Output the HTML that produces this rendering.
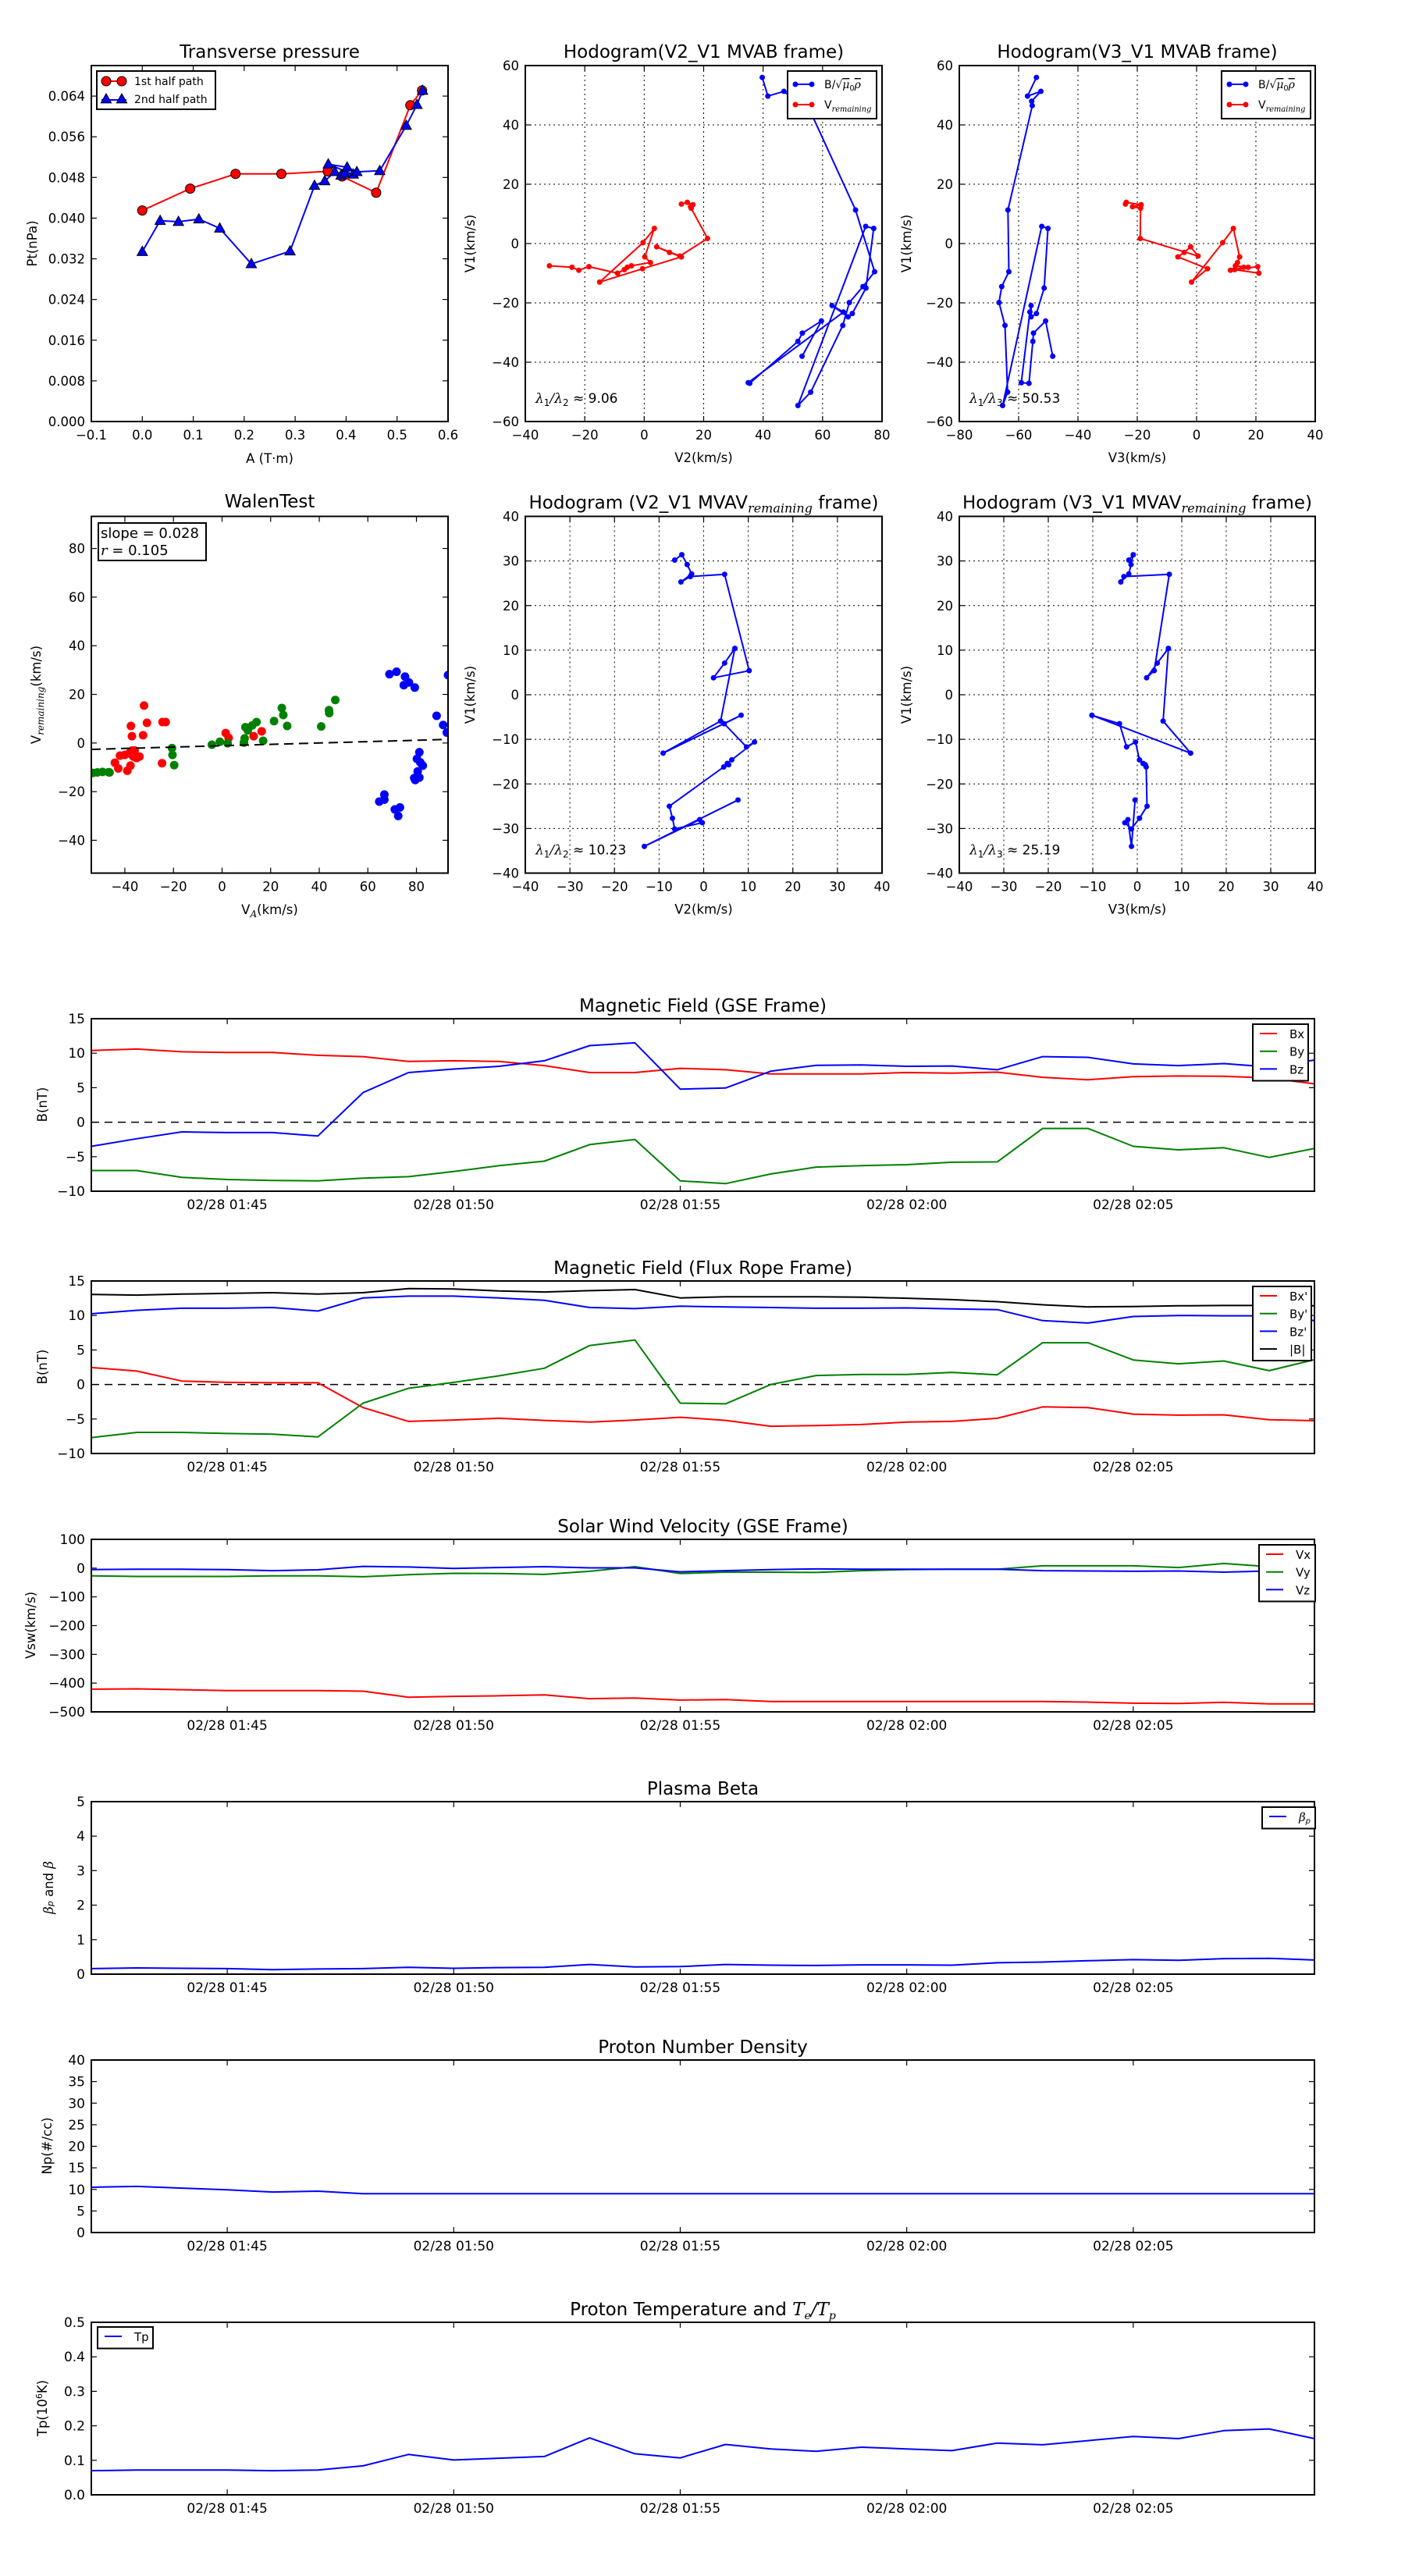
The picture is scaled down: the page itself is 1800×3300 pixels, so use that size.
<!DOCTYPE html>
<html><head><meta charset="utf-8"><title>Flux rope analysis</title>
<style>
html,body{margin:0;padding:0;background:#fff;}
svg{display:block;font-family:"DejaVu Sans","Liberation Sans",sans-serif;}
</style></head>
<body>
<svg id="chart" xmlns="http://www.w3.org/2000/svg" width="1800" height="3300" viewBox="0 0 1800 3300">
<rect x="0" y="0" width="1800" height="3300" fill="#fff"/>
<defs id="defs"></defs>
</svg>
<script>
// ---------- DATA ----------
// Transverse pressure
const ptA1 = [0, 0.094, 0.183, 0.273, 0.364, 0.392, 0.459, 0.526, 0.549];
const ptP1 = [0.0415, 0.0458, 0.0487, 0.0487, 0.0492, 0.0482, 0.045, 0.0622, 0.0651];
const ptA2 = [0, 0.035, 0.071, 0.111, 0.152, 0.214, 0.290, 0.338, 0.358, 0.378, 0.39, 0.397, 0.414, 0.365, 0.402, 0.421, 0.466, 0.518, 0.539, 0.55];
const ptP2 = [0.0334, 0.0395, 0.0393, 0.0398, 0.038, 0.031, 0.0335, 0.0464, 0.0473, 0.0491, 0.0484, 0.0488, 0.0486, 0.0506, 0.0500, 0.0491, 0.0493, 0.0582, 0.0623, 0.0651];
// MVAB hodogram, B/sqrt(mu0 rho)
const hbV1 = [56, 49.7, 51.3, 48, 46.5, 11.3, -9.5, -14.5, -19.9, -27.6, -50.1, -54.6, 5.8, 5.1, -15, -23.6, -24.7, -20.9, -23.1, -46.9, -47.1, -33, -30.2, -26.1, -38];
const hbV2 = [39.7, 41.6, 47, 51, 55, 71.1, 77.5, 73.6, 69, 66.8, 56, 51.7, 74.5, 77.2, 74.6, 70, 68.6, 63.2, 67, 35, 35.5, 51.7, 53.2, 59.6, 53.1];
const hbV3 = [-54, -57, -52.5, -55.6, -55.4, -63.6, -63.3, -65.7, -66.6, -64.6, -63.7, -65.4, -52.2, -50.1, -51.4, -54, -55.8, -55.8, -56.2, -59.1, -56.5, -55.2, -55, -50.9, -48.5];
// MVAB hodogram, V remaining
const hvV1 = [13.3, 13.9, 13.1, 12.4, 11.9, 1.7, -4.2, -1.1, -3, -4.5, -8.5, -13, 0.3, 5.1, -4.5, -6.4, -7.5, -8, -8.8, -10, -7.8, -9, -8, -7.5];
const hvV2 = [12.5, 14.5, 16.4, 15.6, 15.8, 21.3, 12.0, 4.2, 8.5, 12.5, -0.6, -15, -0.4, 3.4, 0.2, 2.1, -4.3, -5.7, -6.7, -9, -18.6, -22, -24.3, -31.9];
const hvV3 = [-24, -23.7, -18.7, -21.6, -18.9, -19, 0.5, -2, -4.2, -6.3, 3.7, -1.7, 8.8, 12.4, 14.5, 13.8, 13.1, 15.9, 12.8, 21, 20.6, 11.4, 17.4, 13.1];
// MVAV hodogram
const mvV1 = [30.2, 31.4, 29.2, 27.1, 25.3, 26.5, 27.0, 5.4, 3.8, 7.1, 10.4, -5.9, -13.1, -4.6, -6.5, -11.7, -10.6, -14.6, -15.4, -15.7, -16.2, -25, -27.7, -30.1, -28.7, -28, -34, -23.6];
const mvV2 = [-6.5, -4.9, -3.7, -2.7, -5.1, -3, 4.7, 10.2, 2.2, 4.7, 7, 3.8, -9.1, 8.4, 4.6, 9.6, 11.4, 6.3, 5.3, 5.6, 4.5, -7.7, -7, -6.5, -0.3, -0.9, -13.3, 7.7];
const mvV3 = [-1.9, -0.9, -1.4, -1.9, -3.7, -3, 7.2, 3.8, 2.1, 4.5, 7, 5.8, 12, -10.2, -4, -2.4, -0.4, 0.5, 1.3, 1.8, 2, 2.2, 0.5, -1.3, -2.8, -2.1, -1.3, -0.5];
// Walen test
const walenRedX = [-44.1, -42.7, -42, -40, -39, -37.5, -37.1, -37.7, -37, -36.5, -35.2, -34, -32.5, -32.1, -30.9, -24.7, -24.5, -23.2, 1.5, 2.7, 13, 16.3, -38.3, -36];
const walenRedY = [-8.1, -10.5, -5.2, -4.9, -11.4, 7, 2.8, -9.3, -3.1, -5.6, -6.2, -5.6, 3.2, 15.4, 8.3, -8.3, 8.6, 8.6, 4.1, 2.1, 2.8, 4.8, -4.3, -3.1];
const walenGreenX = [-53.2, -51.3, -49.2, -46.7, -46.3, -20.6, -20.4, -19.7, -4.2, -0.9, 2.3, 9, 9.3, 9.6, 10.6, 12.4, 14.2, 16.9, 21.4, 24.6, 25.2, 26.8, 40.8, 44, 44.1, 46.6];
const walenGreenY = [-12.3, -12.1, -11.9, -12, -12.1, -2.1, -4.9, -9.1, -0.7, 0.5, -0.1, 0.2, 1.9, 6.5, 5.2, 7.2, 8.6, 0.9, 9, 14.4, 11.5, 7, 6.8, 13.5, 12.3, 17.7];
const walenBlueX = [68.9, 71.8, 75.3, 74.8, 76.9, 79.3, 88.3, 91, 92.5, 93, 81.2, 80.2, 81.6, 82.6, 80.5, 79.1, 81.2, 79.5, 64.7, 66.8, 66.8, 71.1, 73.2, 72.5];
const walenBlueY = [28.3, 29.3, 27.3, 23.8, 24.9, 22.8, 11.2, 7.4, 4.3, 27.9, -3.8, -6.5, -8, -9.3, -11.7, -14.4, -14.2, -15.2, -24.1, -21.2, -23.3, -27.3, -26.5, -30];
const walenSlope = 0.028;
const walenIntercept = -1.1;
// Time series (one sample per minute)
const timeLabels = ['01:42','01:43','01:44','01:45','01:46','01:47','01:48','01:49','01:50','01:51','01:52','01:53','01:54','01:55','01:56','01:57','01:58','01:59','02:00','02:01','02:02','02:03','02:04','02:05','02:06','02:07','02:08','02:09'];
const timeTickLabels = ['02/28 01:45','02/28 01:50','02/28 01:55','02/28 02:00','02/28 02:05'];
const timeTickIdx = [3, 8, 13, 18, 23];
const gseBx = [10.4,10.6,10.2,10.1,10.1,9.7,9.5,8.8,8.9,8.8,8.2,7.2,7.2,7.8,7.6,7.0,7.0,7.0,7.2,7.1,7.25,6.5,6.15,6.6,6.7,6.65,6.4,5.55];
const gseBy = [-7.0,-7.0,-8.0,-8.3,-8.45,-8.5,-8.1,-7.9,-7.15,-6.3,-5.65,-3.25,-2.5,-8.5,-8.9,-7.5,-6.5,-6.3,-6.15,-5.8,-5.75,-0.9,-0.9,-3.5,-4.0,-3.7,-5.1,-3.8];
const gseBz = [-3.5,-2.4,-1.4,-1.5,-1.5,-2.0,4.3,7.2,7.7,8.1,8.9,11.1,11.5,4.8,4.95,7.4,8.25,8.3,8.1,8.15,7.6,9.5,9.4,8.45,8.2,8.5,8.0,9.0];
const frBx = [2.45,1.95,0.5,0.3,0.25,0.25,-3.35,-5.35,-5.15,-4.9,-5.2,-5.45,-5.15,-4.75,-5.2,-6.05,-5.95,-5.8,-5.45,-5.35,-4.9,-3.25,-3.35,-4.3,-4.45,-4.4,-5.1,-5.25];
const frBy = [-7.7,-6.95,-6.95,-7.1,-7.2,-7.6,-2.7,-0.55,0.3,1.25,2.35,5.65,6.45,-2.7,-2.8,0,1.3,1.45,1.45,1.75,1.4,6.05,6.05,3.55,3.0,3.4,2.0,3.6];
const frBz = [10.25,10.75,11.05,11.05,11.15,10.65,12.55,12.8,12.8,12.55,12.2,11.15,11.0,11.35,11.25,11.15,11.05,11.05,11.1,10.95,10.85,9.25,8.9,9.85,10.0,9.95,9.95,9.25];
const frBt = [13.05,12.95,13.1,13.2,13.3,13.1,13.3,13.9,13.85,13.55,13.4,13.6,13.75,12.55,12.7,12.7,12.7,12.65,12.5,12.3,12.0,11.55,11.25,11.3,11.4,11.45,11.45,11.4];
const vswX = [-421,-420,-423,-426,-426,-426,-428,-449,-446,-444,-441,-454,-452,-459,-457,-464,-464,-464,-464,-464,-464,-464,-466,-470,-471,-467,-472,-472];
const vswY = [-27,-29,-29,-29,-27,-27,-30,-23,-18,-19,-22,-11,5,-19,-14,-14,-15,-9,-5,-4,-4,8,8,8,2,16,5,5];
const vswZ = [-5,-4,-4,-5,-9,-6,6,4,-1,2,5,1,1,-13,-9,-5,-3,-4,-4,-4,-4,-9,-10,-11,-10,-14,-10,-3];
const betaP = [0.16,0.18,0.17,0.16,0.13,0.15,0.16,0.2,0.17,0.19,0.2,0.28,0.21,0.22,0.28,0.26,0.25,0.27,0.27,0.26,0.33,0.35,0.39,0.42,0.40,0.45,0.46,0.41];
const npDens = [10.5,10.7,10.3,9.9,9.4,9.6,9.0,9.0,9.0,9.0,9.0,9.0,9.0,9.0,9.0,9.0,9.0,9.0,9.0,9.0,9.0,9.0,9.0,9.0,9.0,9.0,9.0,9.0];
const tpTemp = [0.070,0.072,0.072,0.072,0.070,0.072,0.084,0.117,0.101,0.106,0.111,0.165,0.119,0.107,0.146,0.133,0.126,0.138,0.133,0.128,0.150,0.145,0.157,0.169,0.163,0.186,0.191,0.163];

// ---------- DRAWING ----------
const NS = 'http://www.w3.org/2000/svg';
const svg = document.getElementById('chart');
const defs = document.getElementById('defs');
let clipCount = 0;
function mk(tag, attrs, name, parent) {
  const e = document.createElementNS(NS, tag);
  for (const k in attrs) e.setAttribute(k, attrs[k]);
  
  
  (parent || svg).appendChild(e);
  return e;
}
function txt(x, y, str, size, anchor, name, parent, extra) {
  const a = {x: x, y: y, 'font-size': size, 'text-anchor': anchor || 'middle', fill: '#000'};
  if (extra) for (const k in extra) a[k] = extra[k];
  const t = mk('text', a, name, parent);
  t.textContent = str;
  return t;
}
function tsp(t, str, attrs) {
  const s = document.createElementNS(NS, 'tspan');
  for (const k in attrs) s.setAttribute(k, attrs[k]);
  s.textContent = str;
  t.appendChild(s);
  return s;
}
const fmtMinus = s => String(s).replace('-', '\u2212');

function axes(o) {
  const g = mk('g', {}, o.name);
  const sx = v => o.x0 + (v - o.xmin) / (o.xmax - o.xmin) * (o.x1 - o.x0);
  const sy = v => o.y1 - (v - o.ymin) / (o.ymax - o.ymin) * (o.y1 - o.y0);
  const cid = 'clip' + (clipCount++);
  const cp = mk('clipPath', {id: cid}, o.name + '-clip', defs);
  mk('rect', {x: o.x0, y: o.y0, width: o.x1 - o.x0, height: o.y1 - o.y0}, o.name + '-clip-rect', cp);
  if (o.grid) {
    o.xt.forEach(v => mk('line', {x1: sx(v), x2: sx(v), y1: o.y0, y2: o.y1, stroke: '#000', 'stroke-width': 1, 'stroke-dasharray': '2,4'}, o.name + '-x-grid', g));
    o.yt.forEach(v => mk('line', {x1: o.x0, x2: o.x1, y1: sy(v), y2: sy(v), stroke: '#000', 'stroke-width': 1, 'stroke-dasharray': '2,4'}, o.name + '-y-grid', g));
  }
  o.xt.forEach((v, i) => {
    const X = o.xpos ? o.xpos(v) : sx(v);
    mk('line', {x1: X, x2: X, y1: o.y1, y2: o.y1 - 7, stroke: '#000', 'stroke-width': 1.2}, o.name + '-x-tick', g);
    mk('line', {x1: X, x2: X, y1: o.y0, y2: o.y0 + 7, stroke: '#000', 'stroke-width': 1.2}, o.name + '-x-tick-top', g);
    txt(X, o.y1 + 23, o.xlab(v, i), o.tf || 16.5, 'middle', o.name + '-x-tick-label', g);
  });
  o.yt.forEach((v, i) => {
    const Y = sy(v);
    mk('line', {x1: o.x0, x2: o.x0 + 7, y1: Y, y2: Y, stroke: '#000', 'stroke-width': 1.2}, o.name + '-y-tick', g);
    mk('line', {x1: o.x1, x2: o.x1 - 7, y1: Y, y2: Y, stroke: '#000', 'stroke-width': 1.2}, o.name + '-y-tick-right', g);
    txt(o.x0 - 8, Y + 6, o.ylab(v, i), o.tf || 16.5, 'end', o.name + '-y-tick-label', g);
  });
  const data = mk('g', {'clip-path': 'url(#' + cid + ')'}, o.name + '-data', g);
  return {g, sx, sy, data, finish: () => mk('rect', {x: o.x0, y: o.y0, width: o.x1 - o.x0, height: o.y1 - o.y0, fill: 'none', stroke: '#000', 'stroke-width': 2}, o.name + '-frame', g)};
}
function poly(ax, xs, ys, color, name, w) {
  const pts = xs.map((x, i) => ax.sx(x).toFixed(1) + ',' + ax.sy(ys[i]).toFixed(1)).join(' ');
  return mk('polyline', {points: pts, fill: 'none', stroke: color, 'stroke-width': w || 2, 'stroke-linejoin': 'round'}, name, ax.data);
}
function dots(ax, xs, ys, color, r, name, edge) {
  xs.forEach((x, i) => {
    const c = mk('circle', {cx: ax.sx(x), cy: ax.sy(ys[i]), r: r, fill: color}, name, ax.data);
    if (edge) { c.setAttribute('stroke', '#000'); c.setAttribute('stroke-width', 1); }
  });
}
function tri(cx, cy, s, name, parent) {
  const p = [[cx, cy - s], [cx - s * 0.95, cy + s * 0.7], [cx + s * 0.95, cy + s * 0.7]].map(q => q.join(',')).join(' ');
  return mk('polygon', {points: p, fill: '#0000ff', stroke: '#000', 'stroke-width': 1}, name, parent);
}
function range(a, b, s) { const r = []; for (let v = a; v <= b + 1e-9; v += s) r.push(Math.round(v * 1000) / 1000); return r; }
function legendBox(x, y, w, h, name) {
  return mk('rect', {x: x, y: y, width: w, height: h, fill: '#fff', stroke: '#000', 'stroke-width': 2}, name, svg);
}
function remainingLabel(x, y, size, name, parent) {
  const t = txt(x, y, 'V', size, 'start', name, parent);
  tsp(t, 'remaining', {'font-size': size * 0.7, 'font-style': 'italic', 'font-family': 'DejaVu Serif, serif', dy: 4});
  return t;
}
function sqrtLabel(x, y, size, name, parent) {
  const t = txt(x, y, 'B/\u221A', size, 'start', name, parent);
  tsp(t, '\u03BC', {'font-style': 'italic', 'font-family': 'DejaVu Serif, serif', 'text-decoration': 'overline'});
  tsp(t, '0', {'font-size': size * 0.7, dy: 3});
  tsp(t, '\u03C1', {'font-style': 'italic', 'font-family': 'DejaVu Serif, serif', dy: -3, 'text-decoration': 'overline'});
  return t;
}
function lambdaLabel(x, y, k, val, name) {
  const t = txt(x, y, '', 17, 'start', name, svg);
  tsp(t, '\u03BB', {'font-style': 'italic', 'font-family': 'DejaVu Serif, serif'});
  tsp(t, '1', {'font-size': 12, dy: 4});
  tsp(t, '/\u03BB', {'font-style': 'italic', 'font-family': 'DejaVu Serif, serif', dy: -4});
  tsp(t, k, {'font-size': 12, dy: 4});
  tsp(t, ' \u2248 ' + val, {dy: -4});
  return t;
}

// ---- Panel 1: Transverse pressure
{
  const ax = axes({name: 'transverse-pressure-plot', x0: 117, x1: 574, y0: 84, y1: 540, xmin: -0.1, xmax: 0.6, ymin: 0, ymax: 0.07,
    xt: range(-0.1, 0.6, 0.1), yt: range(0, 0.064, 0.008), xlab: v => fmtMinus(v.toFixed(1)), ylab: v => v.toFixed(3)});
  poly(ax, ptA1, ptP1, '#ff0000', 'first-half-path-line');
  dots(ax, ptA1, ptP1, '#ff0000', 6, 'first-half-path-marker', true);
  poly(ax, ptA2, ptP2, '#0000ff', 'second-half-path-line');
  ptA2.forEach((a, i) => tri(ax.sx(a), ax.sy(ptP2[i]), 7, 'second-half-path-marker', ax.data));
  ax.finish();
  txt(345.5, 74, 'Transverse pressure', 23, 'middle', 'transverse-pressure-title');
  txt(345.5, 593, 'A (T\u00B7m)', 16.5, 'middle', 'x-axis-title-a');
  txt(47, 312, 'Pt(nPa)', 16.5, 'middle', 'y-axis-title-pt', svg, {transform: 'rotate(-90 47 312)'});
  legendBox(124, 91, 152, 49, 'pressure-legend-box');
  mk('line', {x1: 130, x2: 162, y1: 104, y2: 104, stroke: '#ff0000', 'stroke-width': 2}, 'legend-first-half-line');
  mk('circle', {cx: 136, cy: 104, r: 6, fill: '#ff0000', stroke: '#000'}, 'legend-first-half-marker');
  mk('circle', {cx: 156, cy: 104, r: 6, fill: '#ff0000', stroke: '#000'}, 'legend-first-half-marker');
  txt(172, 109, '1st half path', 14, 'start', 'legend-first-half-label');
  mk('line', {x1: 130, x2: 162, y1: 128, y2: 128, stroke: '#0000ff', 'stroke-width': 2}, 'legend-second-half-line');
  tri(136, 127, 7, 'legend-second-half-marker', svg);
  tri(156, 127, 7, 'legend-second-half-marker', svg);
  txt(172, 132, '2nd half path', 14, 'start', 'legend-second-half-label');
}
// ---- Hodogram helper
function hodo(name, x0, x1, y0, y1, xmin, xmax, ymin, ymax, step, bx, by, vx, vy, title, xtitle, ytitleX, lam, lamK, legendX, showLegend) {
  const ax = axes({name: name, x0: x0, x1: x1, y0: y0, y1: y1, xmin: xmin, xmax: xmax, ymin: ymin, ymax: ymax, grid: true,
    xt: range(xmin, xmax, step), yt: range(ymin, ymax, step), xlab: v => fmtMinus(v), ylab: v => fmtMinus(v)});
  poly(ax, bx, by, '#0000ff', name + '-b-line');
  dots(ax, bx, by, '#0000ff', 3.5, name + '-b-point');
  if (vx) { poly(ax, vx, vy, '#ff0000', name + '-v-line'); dots(ax, vx, vy, '#ff0000', 3.5, name + '-v-point'); }
  ax.finish();
  title((x0 + x1) / 2, y0 - 10);
  txt((x0 + x1) / 2, y1 + 52, xtitle, 16.5, 'middle', name + '-x-axis-title');
  txt(ytitleX, (y0 + y1) / 2, 'V1(km/s)', 16.5, 'middle', name + '-y-axis-title', svg, {transform: 'rotate(-90 ' + ytitleX + ' ' + (y0 + y1) / 2 + ')'});
  lambdaLabel(x0 + 13, y1 - 24, lamK, lam, name + '-eigenvalue-ratio');
  if (showLegend) {
    legendBox(legendX, 91, 114, 61, name + '-legend-box');
    mk('line', {x1: legendX + 10, x2: legendX + 31, y1: 108, y2: 108, stroke: '#0000ff', 'stroke-width': 2}, name + '-legend-b-line');
    mk('circle', {cx: legendX + 10, cy: 108, r: 3.5, fill: '#0000ff'}, name + '-legend-b-dot');
    mk('circle', {cx: legendX + 31, cy: 108, r: 3.5, fill: '#0000ff'}, name + '-legend-b-dot');
    sqrtLabel(legendX + 47, 113, 14, name + '-legend-b-label', svg);
    mk('line', {x1: legendX + 10, x2: legendX + 31, y1: 134, y2: 134, stroke: '#ff0000', 'stroke-width': 2}, name + '-legend-v-line');
    mk('circle', {cx: legendX + 10, cy: 134, r: 3.5, fill: '#ff0000'}, name + '-legend-v-dot');
    mk('circle', {cx: legendX + 31, cy: 134, r: 3.5, fill: '#ff0000'}, name + '-legend-v-dot');
    remainingLabel(legendX + 47, 139, 14, name + '-legend-v-label', svg);
  }
}
hodo('hodogram-v2-v1-mvab', 673, 1130, 84, 540, -40, 80, -60, 60, 20, hbV2, hbV1, hvV2, hvV1,
  (x, y) => txt(x, y, 'Hodogram(V2_V1 MVAB frame)', 23, 'middle', 'hodogram-v2-v1-mvab-title'), 'V2(km/s)', 608, '9.06', '2', 1009, true);
hodo('hodogram-v3-v1-mvab', 1229, 1685, 84, 540, -80, 40, -60, 60, 20, hbV3, hbV1, hvV3, hvV1,
  (x, y) => txt(x, y, 'Hodogram(V3_V1 MVAB frame)', 23, 'middle', 'hodogram-v3-v1-mvab-title'), 'V3(km/s)', 1167, '50.53', '3', 1565, true);
function mvavTitle(lbl, nm) {
  return (x, y) => { const t = txt(x, y, 'Hodogram (' + lbl + ' MVAV', 23, 'middle', nm);
    tsp(t, 'remaining', {'font-size': 16, 'font-style': 'italic', 'font-family': 'DejaVu Serif, serif', dy: 5});
    tsp(t, ' frame)', {dy: -5}); };
}
hodo('hodogram-v2-v1-mvav', 673, 1130, 661.5, 1118.5, -40, 40, -40, 40, 10, mvV2, mvV1, null, null,
  mvavTitle('V2_V1', 'hodogram-v2-v1-mvav-title'), 'V2(km/s)', 608, '10.23', '2', 0, false);
hodo('hodogram-v3-v1-mvav', 1229, 1685, 661.5, 1118.5, -40, 40, -40, 40, 10, mvV3, mvV1, null, null,
  mvavTitle('V3_V1', 'hodogram-v3-v1-mvav-title'), 'V3(km/s)', 1167, '25.19', '3', 0, false);

// ---- Walen test
{
  const ax = axes({name: 'walen-test-plot', x0: 117, x1: 574, y0: 661.5, y1: 1118.5, xmin: -53.8, xmax: 93, ymin: -53.5, ymax: 93.2,
    xt: range(-40, 80, 20), yt: range(-40, 80, 20), xlab: v => fmtMinus(v), ylab: v => fmtMinus(v)});
  dots(ax, walenRedX, walenRedY, '#ff0000', 5.5, 'walen-red-point');
  dots(ax, walenGreenX, walenGreenY, '#008000', 5.5, 'walen-green-point');
  dots(ax, walenBlueX, walenBlueY, '#0000ff', 5.5, 'walen-blue-point');
  const fx = [-53.8, 93];
  poly(ax, fx, fx.map(x => walenSlope * x + walenIntercept), '#000', 'walen-fit-line').setAttribute('stroke-dasharray', '12,7');
  ax.finish();
  txt(345.5, 650, 'WalenTest', 23, 'middle', 'walen-test-title');
  const xt = txt(345.5, 1171, 'V', 16.5, 'middle', 'walen-x-axis-title');
  tsp(xt, 'A', {'font-size': 12, 'font-style': 'italic', 'font-family': 'DejaVu Serif, serif', dy: 4});
  tsp(xt, '(km/s)', {dy: -4});
  const yt = txt(52, 890, 'V', 16.5, 'middle', 'walen-y-axis-title', svg, {transform: 'rotate(-90 52 890)'});
  tsp(yt, 'remaining', {'font-size': 12, 'font-style': 'italic', 'font-family': 'DejaVu Serif, serif', dy: 4});
  tsp(yt, '(km/s)', {dy: -4});
  legendBox(126, 670, 138, 48, 'walen-stats-box');
  txt(129, 689, 'slope = ' + walenSlope.toFixed(3), 18, 'start', 'walen-slope-text');
  const rt = txt(129, 711, '', 18, 'start', 'walen-r-text');
  tsp(rt, 'r', {'font-style': 'italic', 'font-family': 'DejaVu Serif, serif'});
  tsp(rt, ' = 0.105', {});
}

// ---- Time series
const TX0 = 117, TX1 = 1684;
function tsAxes(name, top, ymin, ymax, ystep, yfmt, title, ylabelFn) {
  const ax = axes({name: name, x0: TX0, x1: TX1, y0: top, y1: top + 221, xmin: 0, xmax: timeLabels.length - 1, ymin: ymin, ymax: ymax, tf: 17,
    xt: timeTickIdx, yt: range(ymin, ymax, ystep), xlab: (v, i) => timeTickLabels[i], ylab: yfmt});
  txt((TX0 + TX1) / 2, top - 9, title, 23, 'middle', name + '-title');
  ylabelFn(top + 110);
  return ax;
}
const idx = timeLabels.map((t, i) => i);
function tsLegend(x, y, w, entries, name) {
  legendBox(x, y, w, entries.length * 22.5 + 5, name + '-legend-box');
  entries.forEach((e, i) => {
    const yy = y + 12 + i * 22.7;
    mk('line', {x1: x + 9, x2: x + 31, y1: yy, y2: yy, stroke: e[1], 'stroke-width': 2}, name + '-legend-line', svg);
    const t = txt(x + 47, yy + 6, e[0], 15, 'start', name + '-legend-label');
    if (e[2]) { t.textContent = ''; tsp(t, '\u03B2', {'font-style': 'italic', 'font-family': 'DejaVu Serif, serif'}); tsp(t, 'p', {'font-size': 10, 'font-style': 'italic', dy: 3}); }
  });
}
function rotLabel(x, y, str, name) { return txt(x, y, str, 16.5, 'middle', name, svg, {transform: 'rotate(-90 ' + x + ' ' + y + ')'}); }
function zeroLine(ax, name) { poly(ax, [0, timeLabels.length - 1], [0, 0], '#000', name, 1.5).setAttribute('stroke-dasharray', '10,7'); }
{
  const ax = tsAxes('magnetic-field-gse-plot', 1305, -10, 15, 5, v => fmtMinus(v), 'Magnetic Field (GSE Frame)', y => rotLabel(60, y, 'B(nT)', 'gse-y-axis-title'));
  zeroLine(ax, 'gse-zero-line');
  poly(ax, idx, gseBx, '#ff0000', 'gse-bx-line');
  poly(ax, idx, gseBy, '#008000', 'gse-by-line');
  poly(ax, idx, gseBz, '#0000ff', 'gse-bz-line');
  ax.finish();
  tsLegend(1605, 1312, 71, [['Bx', '#ff0000'], ['By', '#008000'], ['Bz', '#0000ff']], 'gse');
}
{
  const ax = tsAxes('magnetic-field-flux-rope-plot', 1641, -10, 15, 5, v => fmtMinus(v), 'Magnetic Field (Flux Rope Frame)', y => rotLabel(60, y, 'B(nT)', 'flux-rope-y-axis-title'));
  zeroLine(ax, 'flux-rope-zero-line');
  poly(ax, idx, frBx, '#ff0000', 'flux-rope-bx-line');
  poly(ax, idx, frBy, '#008000', 'flux-rope-by-line');
  poly(ax, idx, frBz, '#0000ff', 'flux-rope-bz-line');
  poly(ax, idx, frBt, '#000000', 'flux-rope-btotal-line');
  ax.finish();
  tsLegend(1605, 1648, 75, [["Bx'", '#ff0000'], ["By'", '#008000'], ["Bz'", '#0000ff'], ['|B|', '#000']], 'flux-rope');
}
{
  const ax = tsAxes('solar-wind-velocity-plot', 1972, -500, 100, 100, v => fmtMinus(v), 'Solar Wind Velocity (GSE Frame)', y => rotLabel(45, y, 'Vsw(km/s)', 'velocity-y-axis-title'));
  poly(ax, idx, vswX, '#ff0000', 'vx-line');
  poly(ax, idx, vswY, '#008000', 'vy-line');
  poly(ax, idx, vswZ, '#0000ff', 'vz-line');
  ax.finish();
  tsLegend(1613, 1979, 72, [['Vx', '#ff0000'], ['Vy', '#008000'], ['Vz', '#0000ff']], 'velocity');
}
{
  const ax = tsAxes('plasma-beta-plot', 2308, 0, 5, 1, v => String(v), 'Plasma Beta', y => {
    const t = rotLabel(68, y, '', 'beta-y-axis-title');
    tsp(t, '\u03B2', {'font-style': 'italic', 'font-family': 'DejaVu Serif, serif'});
    tsp(t, 'p', {'font-size': 11, 'font-style': 'italic'});
    tsp(t, ' and ', {});
    tsp(t, '\u03B2', {'font-style': 'italic', 'font-family': 'DejaVu Serif, serif'});
  });
  poly(ax, idx, betaP, '#0000ff', 'beta-p-line');
  ax.finish();
  tsLegend(1617, 2315, 68, [['', '#0000ff', true]], 'beta');
}
{
  const ax = tsAxes('proton-density-plot', 2639, 0, 40, 5, v => String(v), 'Proton Number Density', y => rotLabel(66, y, 'Np(#/cc)', 'density-y-axis-title'));
  poly(ax, idx, npDens, '#0000ff', 'density-line');
  ax.finish();
}
{
  const ax = tsAxes('proton-temperature-plot', 2975, 0, 0.5, 0.1, v => v.toFixed(1), '', y => {
    const t = rotLabel(60, y, 'Tp(10', 'temperature-y-axis-title');
    tsp(t, '6', {'font-size': 11, dy: -6});
    tsp(t, 'K)', {dy: 6});
  });
  poly(ax, idx, tpTemp, '#0000ff', 'temperature-line');
  ax.finish();
  const tt = txt((TX0 + TX1) / 2, 2966, 'Proton Temperature and ', 23, 'middle', 'temperature-title');
  tsp(tt, 'T', {'font-style': 'italic', 'font-family': 'DejaVu Serif, serif'});
  tsp(tt, 'e', {'font-size': 14, 'font-style': 'italic', 'font-family': 'DejaVu Serif, serif', dy: 5});
  tsp(tt, '/T', {'font-style': 'italic', 'font-family': 'DejaVu Serif, serif', dy: -5});
  tsp(tt, 'p', {'font-size': 14, 'font-style': 'italic', 'font-family': 'DejaVu Serif, serif', dy: 5});
  tsLegend(125, 2981, 71, [['Tp', '#0000ff']], 'temperature');
}
</script>
</body></html>
